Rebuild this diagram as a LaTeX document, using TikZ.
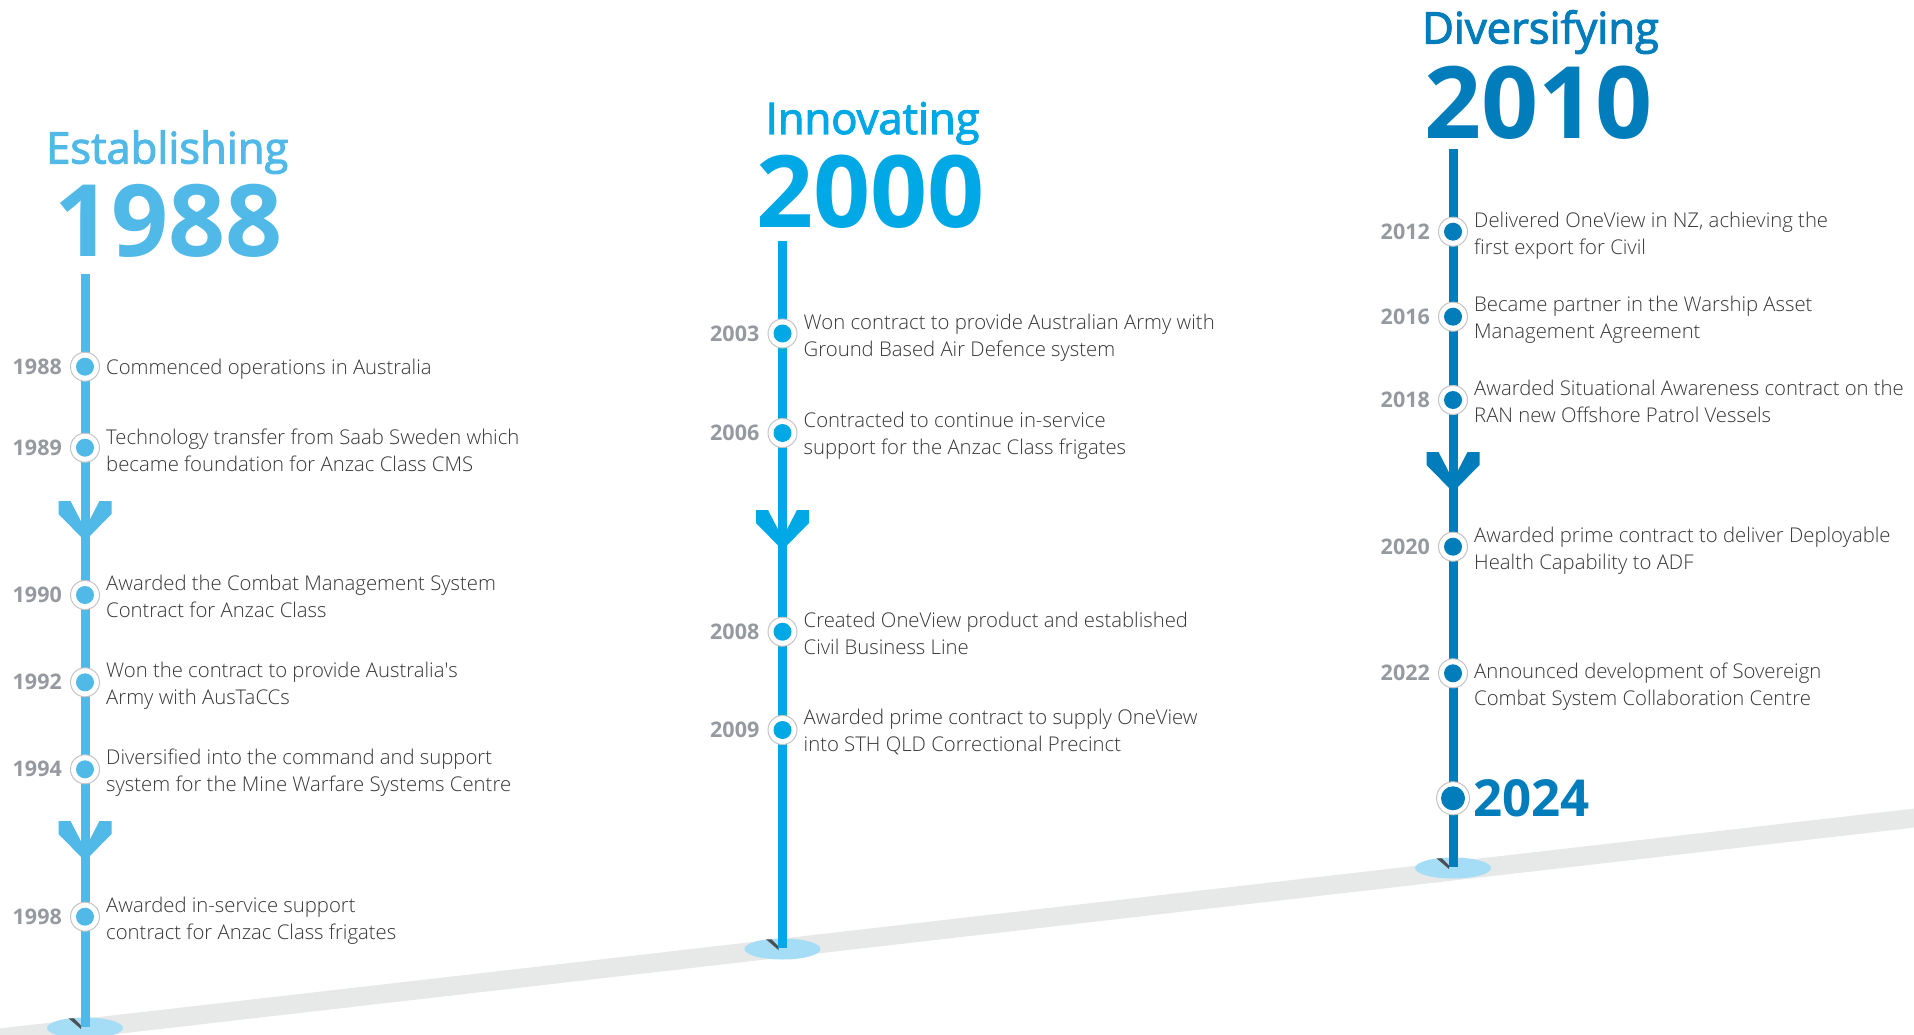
\documentclass[tikz,border=0pt]{standalone}
\usepackage{fontspec}
\setmainfont{Open Sans}
\newfontfamily\lightfont{Open Sans Light}
\newfontfamily\semifont{Open Sans}[FakeBold=2.5]
\definecolor{cL}{HTML}{50B9E8}
\definecolor{cM}{HTML}{00A8E6}
\definecolor{cR}{HTML}{007DBA}
\definecolor{footblue}{HTML}{A6DDF6}
\definecolor{bandgray}{HTML}{E7E8E8}
\definecolor{shadowgray}{HTML}{4D4F53}
\definecolor{ringgray}{HTML}{C4C4C4}
\definecolor{bodygray}{HTML}{363636}
\definecolor{yeargray}{HTML}{959AA0}
\newcommand\tlevent[7]{%
  \node[ev=#4] (#1) at (#2,#3) {};
  \node[yrlabel] (#1y) at ([xshift=-23pt]#1.center) {#5};
  \node[bodytext] (#1t) at ([xshift=21pt,yshift=#7]#1.center) {#6};
}
\newcommand\chev[3]{%
  \fill[#3] ({#1-26.5},{#2-40}) -- ({#1-14.5},{#2-40}) -- ({#1},{#2-12}) -- ({#1+14.5},{#2-40})
    -- ({#1+26.5},{#2-40}) -- ({#1+26.5},{#2-27}) -- ({#1},{#2}) -- ({#1-26.5},{#2-27}) -- cycle;
}
\newcommand\foot[2]{%
  \fill[footblue] (#1,{#2+1}) ellipse [x radius=38, y radius=10.5];
  \fill[shadowgray] ({#1-16.5},{#2-8.7}) -- ({#1-11},{#2-8.7}) -- ({#1-4},{#2-1.5}) -- ({#1-4},{#2+2}) -- cycle;
}
\begin{document}
\begin{tikzpicture}[x=1pt,y=-1pt,
  bodytext/.style={anchor=west, inner sep=0pt, align=left, text=bodygray,
    font=\lightfont\fontsize{20.3}{27}\selectfont},
  yrlabel/.style={anchor=east, inner sep=0pt, text=yeargray,
    font=\bfseries\fontsize{21.5}{26}\selectfont},
  ev/.style={circle, inner sep=0pt, minimum size=29pt, fill=white, draw=ringgray, line width=1pt,
    path picture={\fill[#1] (path picture bounding box.center) circle (9pt);}},
  bigev/.style={circle, inner sep=0pt, minimum size=33pt, fill=white, draw=ringgray, line width=1pt,
    path picture={\fill[#1] (path picture bounding box.center) circle (12pt);}},
  post/.style={line width=9pt},
  phase/.style={anchor=base west, inner sep=0pt, font=\semifont\fontsize{43.5}{50}\selectfont},
  bigyear/.style={anchor=base west, inner sep=0pt, font=\bfseries\fontsize{100}{110}\selectfont}
]
\useasboundingbox (0,0) rectangle (1914,1035);
\fill[white] (0,0) rectangle (1914,1035);

% ground band
\fill[bandgray] (0,1028.4) -- (1914,808.6) -- (1914,827.6) -- (0,1047.4) -- cycle;

% post coordinates
\coordinate (Ltop) at (85,274);   \coordinate (Lbot) at (85,1027);
\coordinate (Mtop) at (782.5,241); \coordinate (Mbot) at (782.5,948);
\coordinate (Rtop) at (1453,149); \coordinate (Rbot) at (1453,867);

% feet
\foot{85}{1027}
\foot{782.5}{948}
\foot{1453}{867}

% posts
\draw[post, cL] (Ltop) -- (Lbot);
\draw[post, cM] (Mtop) -- (Mbot);
\draw[post, cR] (Rtop) -- (Rbot);

% chevrons
\chev{85}{541}{cL}
\chev{85}{861}{cL}
\chev{782.5}{550}{cM}
\chev{1453}{492}{cR}

% titles
\node[phase, text=cL] (estab) at (46,163.5) {Establishing};
\node[bigyear, text=cL] (y1988) at (54,256) {1988};
\node[phase, text=cM] (innov) at (765.5,134) {Innovating};
\node[bigyear, text=cM] (y2000) at (756,228) {2000};
\node[phase, text=cR] (diver) at (1422,43.5) {Diversifying};
\node[bigyear, text=cR] (y2010) at (1424,139) {2010};

% left events
\tlevent{e1988}{85}{366.7}{cL}{1988}{Commenced operations in Australia}{-3pt}
\tlevent{e1989}{85}{447.7}{cL}{1989}{Technology transfer from Saab Sweden which\\became foundation for Anzac Class CMS}{-2.5pt}
\tlevent{e1990}{85}{595}{cL}{1990}{Awarded the Combat Management System\\Contract for Anzac Class}{-1.5pt}
\tlevent{e1992}{85}{682.3}{cL}{1992}{Won the contract to provide Australia\textquotesingle s\\Army with AusTaCCs}{-3pt}
\tlevent{e1994}{85}{769.3}{cL}{1994}{Diversified into the command and support\\system for the Mine Warfare Systems Centre}{-3pt}
\tlevent{e1998}{85}{916.7}{cL}{1998}{Awarded in-service support\\contract for Anzac Class frigates}{-4pt}

% middle events
\tlevent{e2003}{782.5}{333.5}{cM}{2003}{Won contract to provide Australian Army with\\Ground Based Air Defence system}{-4.5pt}
\tlevent{e2006}{782.5}{433}{cM}{2006}{Contracted to continue in-service\\support for the Anzac Class frigates}{-3pt}
\tlevent{e2008}{782.5}{631.7}{cM}{2008}{Created OneView product and established\\Civil Business Line}{-2pt}
\tlevent{e2009}{782.5}{730}{cM}{2009}{Awarded prime contract to supply OneView\\into STH QLD Correctional Precinct}{-2.5pt}

% right events
\tlevent{e2012}{1453}{231.7}{cR}{2012}{Delivered OneView in NZ, achieving the\\first export for Civil}{-4.5pt}
\tlevent{e2016}{1453}{316.7}{cR}{2016}{Became partner in the Warship Asset\\Management Agreement}{-3pt}
\tlevent{e2018}{1453}{400}{cR}{2018}{Awarded Situational Awareness contract on the\\RAN new Offshore Patrol Vessels}{-1pt}
\tlevent{e2020}{1453}{546.7}{cR}{2020}{Awarded prime contract to deliver Deployable\\Health Capability to ADF}{-4.5pt}
\tlevent{e2022}{1453}{673.3}{cR}{2022}{Announced development of Sovereign\\Combat System Collaboration Centre}{-13pt}

\node[bigev=cR] (e2024) at (1453,798.3) {};
\node[anchor=base west, inner sep=0pt, text=cR, font=\bfseries\fontsize{51}{56}\selectfont] (e2024t) at (1473,816) {2024};
\end{tikzpicture}
\end{document}
